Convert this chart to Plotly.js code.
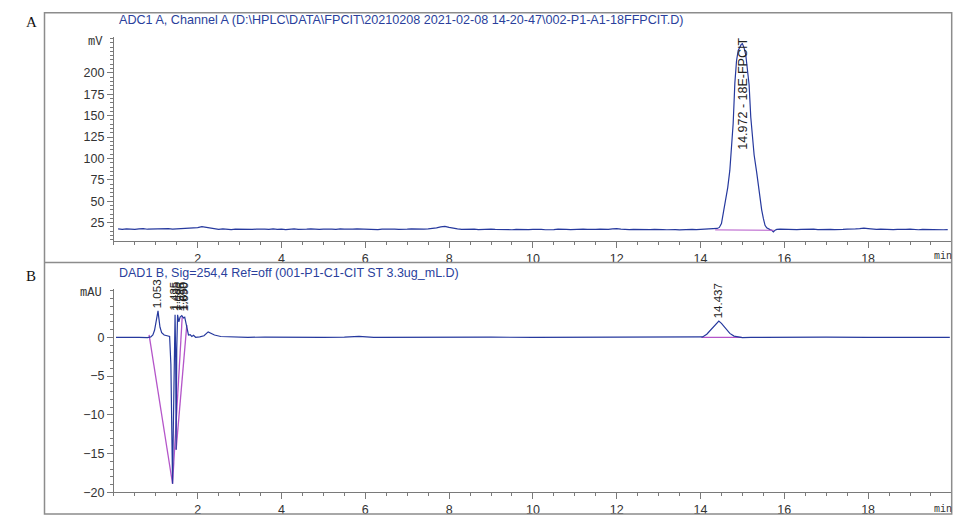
<!DOCTYPE html>
<html>
<head>
<meta charset="utf-8">
<script src="https://cdn.plot.ly/plotly-3.0.1.min.js"></script>
<style>html,body{margin:0;padding:0;background:#fff;}#chart{width:979px;height:521px;}</style>
</head>
<body>
<div id="chart"></div>
<script>
// ---------- Panel A data (ADC1 A, mV) ----------
const timeA = [
 0.1,0.2,0.3,0.4,0.5,0.6,0.7,0.8,0.9,1.0,
 1.1,1.2,1.3,1.4,1.5,1.6,1.7,1.8,1.9,2.0,
 2.1,2.2,2.3,2.4,2.5,2.6,2.7,2.8,2.9,3.0,
 3.1,3.2,3.3,3.4,3.5,3.6,3.7,3.8,3.9,4.0,
 4.1,4.2,4.3,4.4,4.5,4.6,4.7,4.8,4.9,5.0,
 5.1,5.2,5.3,5.4,5.5,5.6,5.7,5.8,5.9,6.0,
 6.1,6.2,6.3,6.4,6.5,6.6,6.7,6.8,6.9,7.0,
 7.1,7.2,7.3,7.4,7.5,7.6,7.7,7.8,7.9,8.0,
 8.1,8.2,8.3,8.4,8.5,8.6,8.7,8.8,8.9,9.0,
 9.1,9.2,9.3,9.4,9.5,9.6,9.7,9.8,9.9,10.0,
 10.1,10.2,10.3,10.4,10.5,10.6,10.7,10.8,10.9,11.0,
 11.1,11.2,11.3,11.4,11.5,11.6,11.7,11.8,11.9,12.0,
 12.1,12.2,12.3,12.4,12.5,12.6,12.7,12.8,12.9,13.0,
 13.1,13.2,13.3,13.4,13.5,13.6,13.7,13.8,13.9,14.0,
 14.1,14.2,14.3,
 14.35,14.40,14.45,14.50,14.55,14.60,14.65,14.70,14.74,14.78,
 14.82,14.86,14.90,14.94,14.972,15.00,15.04,15.08,15.12,15.16,
 15.20,15.24,15.28,15.34,15.40,15.46,15.50,15.54,15.58,15.62,
 15.66,15.70,15.74,15.78,15.82,
 15.9,16.0,16.1,16.2,16.3,16.4,16.5,16.6,16.7,16.8,
 16.9,17.0,17.1,17.2,17.3,17.4,17.5,17.6,17.7,17.8,
 17.9,18.0,18.1,18.2,18.3,18.4,18.5,18.6,18.7,18.8,
 18.9,19.0,19.1,19.2,19.3,19.4,19.5,19.6,19.7,19.8,19.9
];
const signalA = [
 17.8,17.3,17.9,17.5,17.2,17.8,18.1,17.4,17.6,17.9,
 17.3,17.7,18.0,17.5,17.8,17.4,17.9,18.2,18.6,19.3,
 20.5,19.6,18.4,17.6,17.2,17.8,17.4,17.0,17.6,17.3,
 17.8,17.5,17.1,17.6,17.9,17.4,17.2,17.7,17.3,17.6,
 17.0,17.4,17.8,17.3,17.1,17.6,17.9,17.5,17.2,17.6,
 18.0,17.6,17.3,17.8,17.4,17.1,17.5,17.9,17.6,17.3,
 17.7,17.4,17.0,17.5,17.8,17.3,17.6,17.2,17.7,17.4,
 17.8,17.5,17.2,17.6,17.9,18.3,19.0,20.2,20.8,19.5,
 18.4,17.7,17.3,17.6,17.2,17.5,17.0,17.4,17.1,17.5,
 17.2,16.9,17.4,17.1,16.8,17.3,17.0,17.4,16.9,17.2,
 17.5,17.1,16.8,17.3,17.0,17.4,17.7,17.2,16.9,17.3,
 17.0,17.4,17.1,16.8,17.2,17.5,17.0,17.3,17.7,18.1,
 17.6,17.2,16.9,17.3,17.0,16.8,17.2,16.9,17.1,16.7,
 17.0,16.8,17.2,16.9,16.6,17.0,16.8,17.1,16.9,17.2,
 17.0,17.4,17.6,
 17.8,18.3,19.5,24,38,52,66,86,112,141,
 188,214,226,231,233,234,229,221,206,186,
 148,122,104,84,60,40,30,22,19,17.6,
 16.9,16.2,14.2,16.3,17.2,
 17.4,17.1,17.5,17.2,16.9,17.3,17.6,17.1,17.4,17.0,
 17.3,17.6,17.2,16.9,17.4,17.1,17.5,17.3,17.7,18.0,
 18.6,18.2,17.6,17.2,17.5,17.1,17.4,17.0,17.3,16.9,
 17.2,17.5,17.1,16.8,17.2,17.0,17.3,16.9,17.1,16.8,17.0
];
const baseA_t = [14.35, 15.75];
const baseA_v = [16.6, 16.2];
const peakA_time = [14.972];
const peakA_labelY = [108];
const peakA_text = ["14.972 - 18E-FPCIT"];

// ---------- Panel B data (DAD1 B, mAU) ----------
const timeB = [0.05,0.3,0.6,0.8,0.88,0.93,0.97,1.0,1.03,1.053,1.07,1.1,1.14,1.2,1.27,1.33,1.36,1.38,1.40,1.42,
 1.44,1.46,1.475,1.485,1.50,1.52,1.55,1.58,1.62,1.66,1.69,1.72,1.75,1.78,1.82,1.86,1.9,1.95,2.05,2.15,
 2.25,2.32,2.4,2.55,2.8,3.2,3.6,4.0,4.5,5.0,5.5,5.85,6.2,7,8,9,10,11,12,13,
 13.5,14.0,14.05,14.15,14.25,14.35,14.437,14.5,14.6,14.7,14.8,14.9,15.0,15.2,15.6,16,17,18,19,19.95];
const signalB = [0.0,0.02,0.0,-0.05,0.05,0.3,0.9,1.8,2.8,3.4,2.6,1.3,0.6,0.3,0.2,0.1,-3.5,-12,-18.9,-11,
 -2,2.9,-3,-14.5,-1.5,2.9,2.0,2.6,2.8,2.5,2.6,1.8,0.9,0.3,0.35,0.1,0.25,0.0,0.05,0.2,
 0.7,0.55,0.3,0.1,0.05,0.0,0.02,0.0,0.02,0.0,0.03,0.12,0.0,0.02,0.0,0.01,0.0,0.02,0.0,0.01,
 0.0,0.02,0.05,0.4,1.0,1.7,2.1,1.8,1.1,0.5,0.15,0.02,-0.05,0.0,0.02,0.0,0.01,0.0,0.02,0.0];
const baseB_segments = [
  {t: [0.84, 1.40], v: [0.3, -18.9]},
  {t: [1.40, 1.63], v: [-18.9, 2.6]},
  {t: [1.485, 1.74], v: [-14.5, 1.6]},
  {t: [14.02, 14.98], v: [0.0, 0.0]}
];
const peakB_time = [1.053, 1.435, 1.485, 1.596, 1.650, 1.690, 14.437];
const peakB_labelY = [3.3, 3.0, 3.0, 3.0, 3.0, 3.0, 2.1];
const peakB_text = ["1.053", "1.435", "1.485", "1.596", "1.650", "1.690", "14.437"];

const xTicks = [2, 4, 6, 8, 10, 12, 14, 16, 18];
const yTicksA = [25, 50, 75, 100, 125, 150, 175, 200];
const yTicksB = [-20, -15, -10, -5, 0];

const titleA = "ADC1 A, Channel A (D:\\HPLC\\DATA\\FPCIT\\20210208 2021-02-08 14-20-47\\002-P1-A1-18FFPCIT.D)";
const titleB = "DAD1 B, Sig=254,4 Ref=off (001-P1-C1-CIT ST 3.3ug_mL.D)";

// ---------- build ----------
const W = 979, H = 521;
const px = v => v / W;
const py = v => 1 - v / H;
const traceColor = '#26399e';
const baseColor = '#b455c9';
const axColor = '#7a7a7a';
const FONT = 'Liberation Sans, Arial, sans-serif';

const traces = [];
traces.push({x: timeA, y: signalA, xaxis: 'x', yaxis: 'y', type: 'scatter', mode: 'lines',
  line: {color: traceColor, width: 1.2}, hoverinfo: 'skip'});
traces.push({x: baseA_t, y: baseA_v, xaxis: 'x', yaxis: 'y', type: 'scatter', mode: 'lines',
  line: {color: baseColor, width: 1}, hoverinfo: 'skip'});
baseB_segments.forEach(s => traces.push({x: s.t, y: s.v, xaxis: 'x2', yaxis: 'y2', type: 'scatter', mode: 'lines',
  line: {color: baseColor, width: 1.3}, hoverinfo: 'skip'}));
traces.push({x: timeB, y: signalB, xaxis: 'x2', yaxis: 'y2', type: 'scatter', mode: 'lines',
  line: {color: traceColor, width: 1.2}, hoverinfo: 'skip'});

function xAxis(anchor) {
  return {domain: [px(113.9), px(951.9)], range: [0, 20], anchor: anchor,
    tickmode: 'array', tickvals: xTicks, ticks: 'outside', ticklen: 6, tickcolor: axColor, tickwidth: 1,
    showline: true, linecolor: axColor, linewidth: 1, showgrid: false, zeroline: false,
    tickfont: {family: FONT, size: 12.5, color: '#333'},
    minor: {tickmode: 'linear', tick0: 0, dtick: 0.5, ticks: 'outside', ticklen: 3, tickcolor: axColor, showgrid: false}};
}
function yAxis(anchor, dom, range, tv, mdt) {
  return {domain: dom, range: range, anchor: anchor,
    tickmode: 'array', tickvals: tv, ticks: 'outside', ticklen: 6, tickcolor: axColor, tickwidth: 1,
    showline: true, linecolor: axColor, linewidth: 1, showgrid: false, zeroline: false,
    tickfont: {family: FONT, size: 12.5, color: '#333'},
    minor: {tickmode: 'linear', tick0: 0, dtick: mdt, ticks: 'outside', ticklen: 3, tickcolor: axColor, showgrid: false}};
}

const annotations = [];
function paperText(text, x, y, opts) {
  annotations.push(Object.assign({text: text, x: px(x), y: py(y), xref: 'paper', yref: 'paper',
    showarrow: false, xanchor: 'center', yanchor: 'middle'}, opts));
}
paperText('A', 31, 22, {font: {family: 'Liberation Serif, Times New Roman, serif', size: 15, color: '#111'}});
paperText('B', 31, 276, {font: {family: 'Liberation Serif, Times New Roman, serif', size: 15, color: '#111'}});
paperText(titleA, 117, 20, {xanchor: 'left', font: {family: FONT, size: 12.6, color: '#2a3f9c'}});
paperText(titleB, 117, 273, {xanchor: 'left', font: {family: FONT, size: 12.5, color: '#2a3f9c'}});
paperText('mV', 95, 42, {font: {family: 'Liberation Mono, monospace', size: 12, color: '#333'}});
paperText('mAU', 91, 293, {font: {family: 'Liberation Mono, monospace', size: 12, color: '#333'}});
paperText('min', 943, 257, {font: {family: 'Liberation Mono, monospace', size: 10, color: '#333'}});
paperText('min', 943, 509, {font: {family: 'Liberation Mono, monospace', size: 10, color: '#333'}});

peakA_time.forEach((t, i) => annotations.push({text: peakA_text[i], x: t, y: peakA_labelY[i], xref: 'x', yref: 'y',
  showarrow: false, textangle: -90, xanchor: 'center', yanchor: 'bottom', xshift: 1,
  font: {family: FONT, size: 12.5, color: '#222'}}));
peakB_time.forEach((t, i) => annotations.push({text: peakB_text[i], x: t, y: peakB_labelY[i], xref: 'x2', yref: 'y2',
  showarrow: false, textangle: -90, xanchor: 'center', yanchor: 'bottom', xshift: -1, yshift: 1,
  font: {family: FONT, size: 11.5, color: '#222'}}));

const shapes = [
  {type: 'rect', xref: 'paper', yref: 'paper', x0: px(44.5), x1: px(951.7), y0: py(514), y1: py(12.7),
   line: {color: '#8c8c8c', width: 1.5}},
  {type: 'line', xref: 'paper', yref: 'paper', x0: px(44.5), x1: px(951.7), y0: py(262.5), y1: py(262.5),
   line: {color: '#8c8c8c', width: 1.5}}
];

const layout = {
  width: W, height: H, margin: {l: 0, r: 0, t: 0, b: 0},
  paper_bgcolor: '#ffffff', plot_bgcolor: '#ffffff', showlegend: false,
  xaxis: xAxis('y'),
  yaxis: yAxis('x', [py(241), py(37)], [3.65, 241.7], yTicksA, 5),
  xaxis2: xAxis('y2'),
  yaxis2: yAxis('x2', [py(492.3), py(289)], [-20, 6.23], yTicksB, 1),
  annotations: annotations, shapes: shapes
};
Plotly.newPlot('chart', traces, layout, {displayModeBar: false, staticPlot: true});
</script>
</body>
</html>
